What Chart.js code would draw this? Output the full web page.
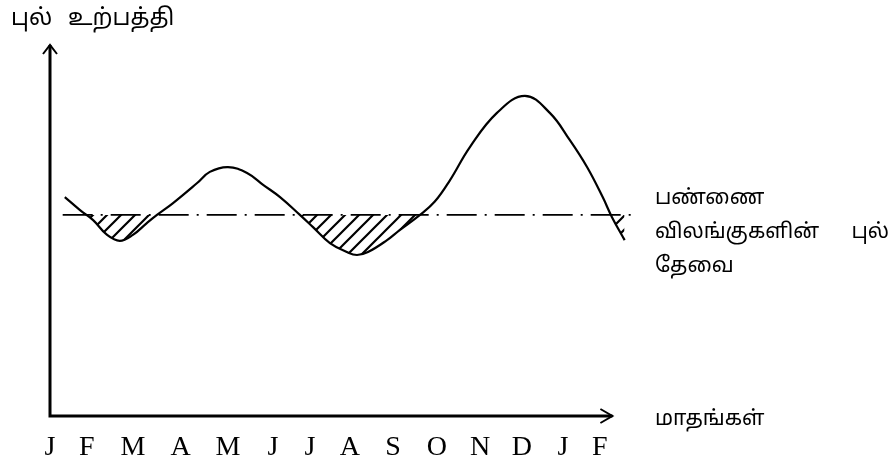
<!DOCTYPE html>
<html>
<head>
	<meta charset="utf-8">
	<title>புல் உற்பத்தி</title>
	<script src="https://cdn.jsdelivr.net/npm/chart.js@4"></script>
	<style>
		body { margin: 0; background: #fff; }
		#wrap { width: 896px; height: 466px; }
	</style>
</head>
<body>
	<div id="wrap">
		<canvas id="chart"></canvas>
	</div>

	<script type="text/javascript">

		// month labels under the x axis (Jan .. Feb of next year) and where they sit
		var monthLabels = ['J', 'F', 'M', 'A', 'M', 'J', 'J', 'A', 'S', 'O', 'N', 'D', 'J', 'F'];
		var monthTicks = [0, 0.87, 1.96, 3.09, 4.21, 5.27, 6.15, 7.09, 8.11, 9.15, 10.17, 11.16, 12.13, 13.0];

		// grass production curve: position in months and relative amount
		var monthPos = [0.35, 0.71, 1.02, 1.35, 1.65, 1.96, 2.29, 2.53, 2.91, 3.48, 3.78, 4.21, 4.66, 5.04, 5.44, 5.91, 6.22, 6.62, 7.02, 7.26, 7.52, 7.97, 8.27, 8.75, 9.10, 9.46, 9.93, 10.57, 11.23, 11.82, 12.29, 12.70, 13.07, 13.29, 13.59];
		var grassProduction = [59.0, 55.5, 52.8, 48.8, 47.2, 48.8, 52.0, 54.2, 57.4, 62.8, 65.8, 67.1, 65.5, 62.3, 59.0, 54.2, 50.9, 46.6, 44.2, 43.4, 44.2, 47.4, 50.1, 54.2, 57.8, 63.6, 72.5, 81.7, 86.3, 81.7, 74.4, 67.1, 59.0, 53.6, 47.4];

		// grass need of the farm animals (flat line)
		var demandPos = [0.3, 13.85];
		var demandLevel = [54.2, 54.2];

		var yTitle = ['புல்', 'உற்பத்தி'];
		var xTitle = 'மாதங்கள்';
		var demandText = ['பண்ணை', 'விலங்குகளின்', 'புல்', 'தேவை'];

		var tamilFont = "'Noto Sans Tamil', 'Latha', 'Noto Sans', sans-serif";

		// diagonal hatch for the shortage areas
		function makeHatch() {
			var c = document.createElement('canvas');
			c.width = 14;
			c.height = 14;
			var g = c.getContext('2d');
			g.strokeStyle = '#000';
			g.lineWidth = 2.2;
			g.beginPath();
			g.moveTo(-2, 16); g.lineTo(16, -2);
			g.moveTo(-2, 2); g.lineTo(2, -2);
			g.moveTo(12, 16); g.lineTo(16, 12);
			g.stroke();
			return g.createPattern(c, 'repeat');
		}

		var axesAndText = {
			id: 'axesAndText',
			afterDraw: function(chart) {
				var ctx = chart.ctx;
				var x = chart.scales.x, y = chart.scales.y;
				var x0 = x.getPixelForValue(0), y0 = y.getPixelForValue(0);
				var xEnd = x.getPixelForValue(13.3), yEnd = y.getPixelForValue(100);

				ctx.save();
				ctx.strokeStyle = '#000';
				ctx.lineWidth = 3;
				ctx.beginPath();
				ctx.moveTo(x0, yEnd);
				ctx.lineTo(x0, y0);
				ctx.lineTo(xEnd, y0);
				ctx.stroke();

				ctx.lineWidth = 2;
				ctx.beginPath();
				ctx.moveTo(x0 - 7, yEnd + 9); ctx.lineTo(x0, yEnd); ctx.lineTo(x0 + 7, yEnd + 9);
				ctx.moveTo(xEnd - 12, y0 - 7); ctx.lineTo(xEnd, y0); ctx.lineTo(xEnd - 12, y0 + 7);
				ctx.stroke();

				ctx.fillStyle = '#000';
				ctx.textBaseline = 'middle';
				ctx.textAlign = 'left';
				ctx.font = '23px ' + tamilFont;
				ctx.fillText(yTitle[0], 11, 20);
				ctx.fillText(yTitle[1], 68, 20);

				ctx.font = '21px ' + tamilFont;
				ctx.fillText(xTitle, 655, 421);
				ctx.fillText(demandText[0], 655, 200);
				ctx.fillText(demandText[1], 655, 234);
				ctx.textAlign = 'right';
				ctx.fillText(demandText[2], 889, 234);
				ctx.textAlign = 'left';
				ctx.fillText(demandText[3], 655, 268);
				ctx.restore();
			}
		};

		var config = {
			type: 'line',
			data: {
				datasets: [
					{
						label: 'grass',
						data: monthPos.map(function(m, i) { return { x: m, y: grassProduction[i] }; }),
						borderColor: '#000',
						borderWidth: 2.2,
						pointRadius: 0,
						tension: 0.4,
						fill: { target: { value: demandLevel[0] }, above: 'rgba(0,0,0,0)', below: makeHatch() }
					},
					{
						label: 'demand',
						data: demandPos.map(function(m, i) { return { x: m, y: demandLevel[i] }; }),
						borderColor: '#000',
						borderWidth: 1.6,
						borderDash: [30, 8, 2, 8],
						pointRadius: 0,
						fill: false
					}
				]
			},
			options: {
				responsive: false,
				animation: false,
				layout: { padding: { left: 50, top: 45, right: 254, bottom: 0 } },
				plugins: {
					legend: { display: false },
					tooltip: { enabled: false }
				},
				scales: {
					x: {
						type: 'linear',
						min: 0,
						max: 14,
						grid: { display: false },
						border: { display: false },
						afterFit: function(s) { s.height = 50; },
						afterBuildTicks: function(s) {
							s.ticks = monthTicks.map(function(v) { return { value: v }; });
						},
						ticks: {
							autoSkip: false,
							maxRotation: 0,
							padding: 7,
							color: '#000',
							font: { family: "'Liberation Serif', 'Times New Roman', serif", size: 28 },
							callback: function(v, i) { return monthLabels[i] || ''; }
						}
					},
					y: {
						display: false,
						min: 0,
						max: 100
					}
				}
			},
			plugins: [axesAndText]
		};

		var cv = document.getElementById('chart');
		cv.width = 896;
		cv.height = 466;
		var chart = new Chart(cv.getContext('2d'), config);

	</script>
</body>
</html>
